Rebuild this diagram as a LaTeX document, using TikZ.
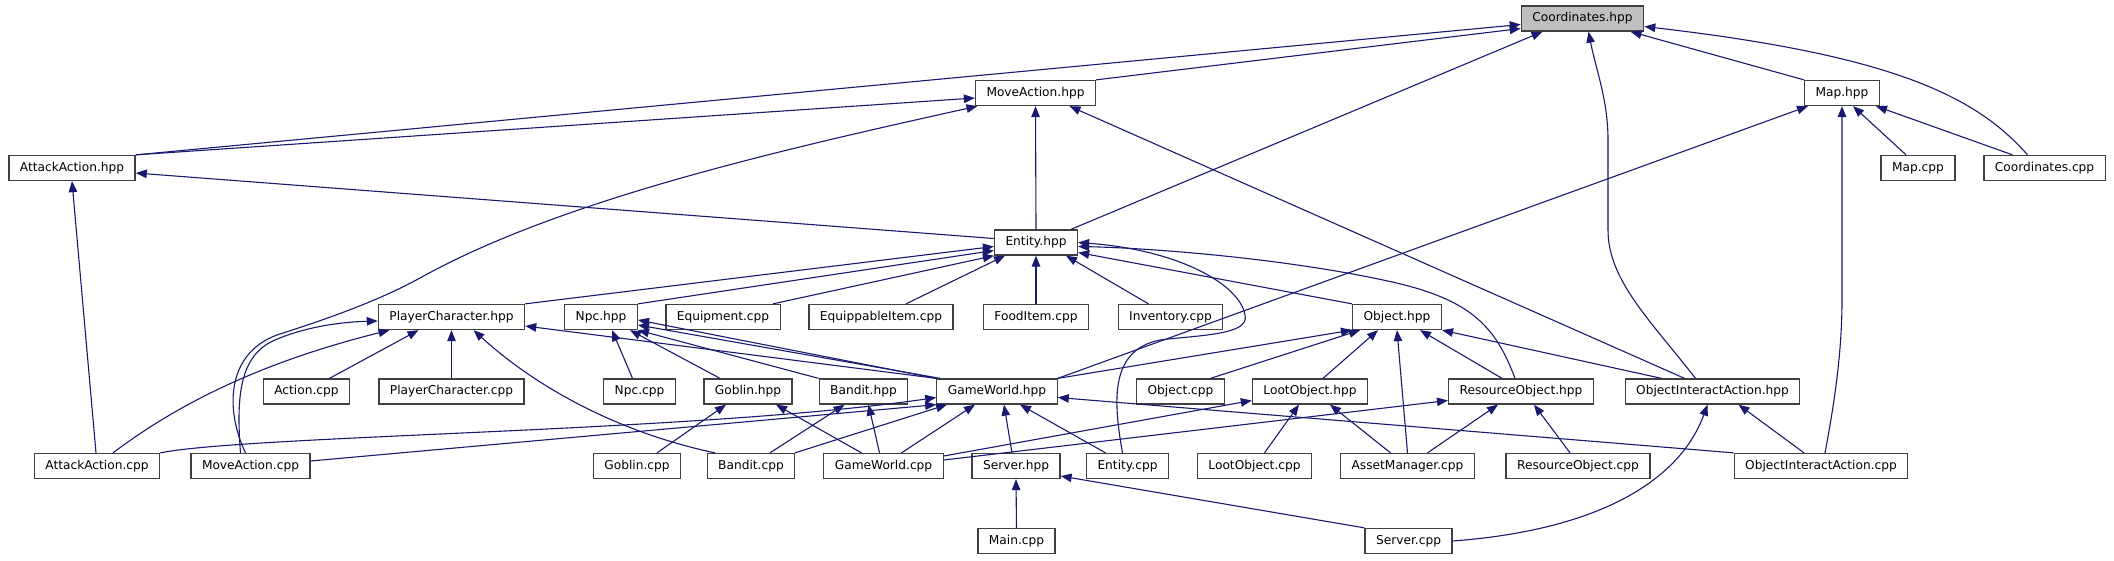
\documentclass[tikz,border=0pt]{standalone}
\usepackage{fontspec}
\setmainfont{DejaVu Sans}
\usetikzlibrary{arrows.meta}
\definecolor{edgeblue}{RGB}{25,25,112}

\begin{document}
\begin{tikzpicture}[x=1pt, y=-1pt]
    \tikzset{
      file/.style={draw=black!75, line width=1.3pt, fill=white, minimum height=25pt,
                   inner xsep=11pt, inner ysep=0pt, font=\fontsize{12.2}{14}\selectfont},
      cur/.style={file, fill=black!25},
      dep/.style={draw=edgeblue, line width=1.1pt,
                  -{Triangle[length=11pt, width=8.5pt, fill=edgeblue]}},
    }
    \useasboundingbox (0,0) rectangle (2114,560);

    \node[cur]  (coordh)     at (1582.5, 18.5) {Coordinates.hpp};

    \node[file] (moveh)      at (1035.5, 93) {MoveAction.hpp};
    \node[file] (maph)       at (1842, 93) {Map.hpp};

    \node[file] (attackh)    at (72, 168) {AttackAction.hpp};
    \node[file] (mapc)       at (1918, 168) {Map.cpp};
    \node[file] (coordc)     at (2044.5, 168) {Coordinates.cpp};

    \node[file] (entityh)    at (1036, 242.5) {Entity.hpp};

    \node[file] (playerh)    at (451.5, 317) {PlayerCharacter.hpp};
    \node[file] (npch)       at (601, 317) {Npc.hpp};
    \node[file] (equipc)     at (723, 317) {Equipment.cpp};
    \node[file] (equipitemc) at (881, 317) {EquippableItem.cpp};
    \node[file] (foodc)      at (1036, 317) {FoodItem.cpp};
    \node[file] (invc)       at (1170.5, 317) {Inventory.cpp};
    \node[file] (objecth)    at (1397, 317) {Object.hpp};

    \node[file] (actionc)    at (306.5, 391.5) {Action.cpp};
    \node[file] (playerc)    at (451.5, 391.5) {PlayerCharacter.cpp};
    \node[file] (npcc)       at (639.5, 391.5) {Npc.cpp};
    \node[file] (goblinh)    at (748, 391.5) {Goblin.hpp};
    \node[file] (bandith)    at (863.5, 391.5) {Bandit.hpp};
    \node[file] (worldh)     at (997, 391.5) {GameWorld.hpp};
    \node[file] (objectc)    at (1180.5, 391.5) {Object.cpp};
    \node[file] (looth)      at (1310, 391.5) {LootObject.hpp};
    \node[file] (resh)       at (1521, 391.5) {ResourceObject.hpp};
    \node[file] (interh)     at (1712.5, 391.5) {ObjectInteractAction.hpp};

    \node[file] (attackc)    at (97, 466) {AttackAction.cpp};
    \node[file] (movec)      at (250.5, 466) {MoveAction.cpp};
    \node[file] (goblinc)    at (637, 466) {Goblin.cpp};
    \node[file] (banditc)    at (751, 466) {Bandit.cpp};
    \node[file] (worldc)     at (883.5, 466) {GameWorld.cpp};
    \node[file] (serverh)    at (1016, 466) {Server.hpp};
    \node[file] (entityc)    at (1127.5, 466) {Entity.cpp};
    \node[file] (lootc)      at (1254.5, 466) {LootObject.cpp};
    \node[file] (assetc)     at (1407.5, 466) {AssetManager.cpp};
    \node[file] (resc)       at (1578, 466) {ResourceObject.cpp};
    \node[file] (interc)     at (1821, 466) {ObjectInteractAction.cpp};

    \node[file] (mainc)      at (1016.5, 541) {Main.cpp};
    \node[file] (serverc)    at (1408.5, 541) {Server.cpp};

    \draw[dep] (attackh.north east) -- ([yshift=-6pt]coordh.west);
    \draw[dep] (moveh.north east) -- ([yshift=-10pt]coordh.west);
    \draw[dep] ([xshift=35pt]entityh.north) -- ([xshift=-40pt]coordh.south);
    \draw[dep] ([xshift=-17pt]interh.north) .. controls (1650,320) and (1608,280) .. (1608,230)
               -- (1608,140) .. controls (1608,100) and (1596,70) .. ([xshift=6pt]coordh.south);
    \draw[dep] (maph.north west) -- ([xshift=48pt]coordh.south);
    \draw[dep] ([xshift=-17pt]coordc.north) .. controls (1975,95) and (1890,55) .. ([yshift=-8pt]coordh.east);

    \draw[dep] (attackh.north east) -- ([yshift=-5pt]moveh.west);
    \draw[dep] (entityh.north) -- (moveh.south);
    \draw[dep] ([xshift=-5pt]movec.north) .. controls (225,410) and (225,350) .. (283,333)
               .. controls (330,318) and (380,300) .. (420,278)
               .. controls (560,200) and (780,150) .. ([xshift=-58pt]moveh.south);
    \draw[dep] ([xshift=-28pt]interh.north) -- ([xshift=34pt]moveh.south);

    \draw[dep] (worldh.north east) -- ([xshift=-34pt]maph.south);
    \draw[dep] ([xshift=-12pt]mapc.north) -- ([xshift=11pt]maph.south);
    \draw[dep] ([xshift=-32pt]coordc.north) -- ([xshift=34pt]maph.south);
    \draw[dep] ([xshift=4pt]interc.north) .. controls (1835,400) and (1842,350) .. (1842,300) -- (maph.south);

    \draw[dep] ([yshift=4pt]entityh.west) -- ([yshift=-5pt]attackh.east);
    \draw[dep] ([xshift=-1pt]attackc.north) -- (attackh.south);

    \draw[dep] (playerh.north east) -- ([yshift=-4pt]entityh.west);
    \draw[dep] (npch.north east) -- ([yshift=-8pt]entityh.west);
    \draw[dep] ([xshift=50pt]equipc.north) -- (entityh.south west);
    \draw[dep] ([xshift=25pt]equipitemc.north) -- ([xshift=-31pt]entityh.south);
    \draw[dep] (foodc.north) -- (entityh.south);
    \draw[dep] ([xshift=-22pt]invc.north) -- ([xshift=30pt]entityh.south);
    \draw[dep] (objecth.north west) -- ([yshift=-10pt]entityh.east);
    \draw[dep] ([xshift=-5pt]entityc.north) .. controls (1113,400) and (1110,350) .. (1160,340)
               .. controls (1200,335) and (1250,335) .. (1245,315)
               .. controls (1240,285) and (1180,250) .. (entityh.east);
    \draw[dep] ([xshift=-6pt]resh.north) .. controls (1495,325) and (1470,298) .. (1383,280)
               .. controls (1280,258) and (1150,248) .. ([yshift=-4pt]entityh.east);

    \draw[dep] ([xshift=-10pt]movec.north) .. controls (236,395) and (240,355) .. (275,340)
               .. controls (305,327) and (340,322) .. ([yshift=-4pt]playerh.west);
    \draw[dep] ([xshift=16pt]attackc.north) .. controls (170,410) and (250,365) .. ([xshift=-62pt]playerh.south);
    \draw[dep] ([xshift=23pt]actionc.north) -- ([xshift=-33pt]playerh.south);
    \draw[dep] (playerc.north) -- (playerh.south);
    \draw[dep] ([xshift=-36pt]banditc.north) .. controls (630,435) and (545,395) .. ([xshift=22pt]playerh.south);
    \draw[dep] (worldh.north west) -- ([yshift=-9pt]playerh.east);

    \draw[dep] ([xshift=-7pt]npcc.north) -- ([xshift=11pt]npch.south);
    \draw[dep] ([xshift=-28pt]goblinh.north) -- ([xshift=29pt]npch.south);
    \draw[dep] (bandith.north west) -- (npch.south east);
    \draw[dep] (worldh.north west) -- ([yshift=-3pt]npch.east);
    \draw[dep] ([xshift=4pt]worldh.north west) -- ([yshift=-8pt]npch.east);

    \draw[dep] (attackc.north east) .. controls (250,435) and (700,432) .. ([yshift=-6pt]worldh.west);
    \draw[dep] ([yshift=5pt]movec.east) -- (worldh.south west);
    \draw[dep] ([xshift=44pt]banditc.north) -- ([xshift=-50pt]worldh.south);
    \draw[dep] ([xshift=18pt]worldc.north) -- ([xshift=-22pt]worldh.south);
    \draw[dep] ([xshift=-4pt]serverh.north) -- ([xshift=7pt]worldh.south);
    \draw[dep] ([xshift=-22pt]entityc.north) -- ([xshift=23pt]worldh.south);
    \draw[dep] (interc.north west) -- ([yshift=-6pt]worldh.east);

    \draw[dep] ([xshift=20pt]goblinc.north) -- ([xshift=-22pt]goblinh.south);
    \draw[dep] ([xshift=-22pt]worldc.north) -- ([xshift=28pt]goblinh.south);
    \draw[dep] ([xshift=19pt]banditc.north) -- ([xshift=-19pt]bandith.south);
    \draw[dep] ([xshift=-4pt]worldc.north) -- ([xshift=5pt]bandith.south);

    \draw[dep] (worldh.north east) -- (objecth.south west);
    \draw[dep] ([xshift=30pt]objectc.north) -- ([xshift=-37pt]objecth.south);
    \draw[dep] ([xshift=13pt]looth.north) -- ([xshift=-19pt]objecth.south);
    \draw[dep] (assetc.north) -- (objecth.south);
    \draw[dep] ([xshift=-19pt]resh.north) -- ([xshift=23pt]objecth.south);
    \draw[dep] ([xshift=-51pt]interh.north) -- (objecth.south east);

    \draw[dep] ([yshift=10pt]worldc.east) -- ([yshift=-9pt]looth.west);
    \draw[dep] ([xshift=10pt]lootc.north) -- ([xshift=-11pt]looth.south);
    \draw[dep] ([xshift=-17pt]assetc.north) -- ([xshift=20pt]looth.south);

    \draw[dep] ([yshift=6pt]worldc.east) -- ([yshift=-9pt]resh.west);
    \draw[dep] ([xshift=20pt]assetc.north) -- ([xshift=-23pt]resh.south);
    \draw[dep] ([xshift=-8pt]resc.north) -- ([xshift=13pt]resh.south);

    \draw[dep] (serverc.east) .. controls (1600,530) and (1680,480) .. ([xshift=-5pt]interh.south);
    \draw[dep] ([xshift=-17pt]interc.north) -- ([xshift=26pt]interh.south);

    \draw[dep] (mainc.north) -- (serverh.south);
    \draw[dep] (serverc.north west) -- ([yshift=-10pt]serverh.east);
\end{tikzpicture}
\end{document}
